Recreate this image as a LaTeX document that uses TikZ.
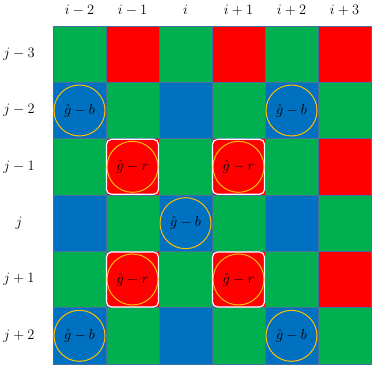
\documentclass[tikz,border=0pt]{standalone}
\usepackage{amsmath}
\usepackage{tikz}
\usetikzlibrary{positioning}

\definecolor{bayerG}{HTML}{00B050}
\definecolor{bayerR}{HTML}{FF0000}
\definecolor{bayerB}{HTML}{0070C0}
\definecolor{gridline}{HTML}{41719C}
\definecolor{ringorange}{HTML}{FFC000}

\begin{document}
\begin{tikzpicture}[
x=1pt, y=1pt,
cell/.style={
draw=gridline,
line width=0.8pt,
minimum width=53pt,
minimum height=56.33pt,
inner sep=0pt,
outer sep=0pt
},
gc/.style={cell, fill=bayerG},
rc/.style={cell, fill=bayerR},
bc/.style={cell, fill=bayerB},
redbox/.style={
draw=white,
line width=1.2pt,
fill=bayerR,
rounded corners=5pt,
minimum width=52pt,
minimum height=55pt,
inner sep=0pt
},
ring/.style={
circle,
draw=ringorange,
line width=1pt,
minimum size=51pt,
inner sep=0pt,
font=\Large
},
idx/.style={
font=\Large,
inner sep=1pt
}
]

\useasboundingbox (0,0) rectangle (374,367);

% row j-3
\node[gc] (c11) at (79.5,312.83) {};
\node[rc, right=0pt of c11] (c12) {};
\node[gc, right=0pt of c12] (c13) {};
\node[rc, right=0pt of c13] (c14) {};
\node[gc, right=0pt of c14] (c15) {};
\node[rc, right=0pt of c15] (c16) {};
% row j-2
\node[bc, below=0pt of c11] (c21) {};
\node[gc, right=0pt of c21] (c22) {};
\node[bc, right=0pt of c22] (c23) {};
\node[gc, right=0pt of c23] (c24) {};
\node[bc, right=0pt of c24] (c25) {};
\node[gc, right=0pt of c25] (c26) {};
% row j-1
\node[gc, below=0pt of c21] (c31) {};
\node[rc, right=0pt of c31] (c32) {};
\node[gc, right=0pt of c32] (c33) {};
\node[rc, right=0pt of c33] (c34) {};
\node[gc, right=0pt of c34] (c35) {};
\node[rc, right=0pt of c35] (c36) {};
% row j
\node[bc, below=0pt of c31] (c41) {};
\node[gc, right=0pt of c41] (c42) {};
\node[bc, right=0pt of c42] (c43) {};
\node[gc, right=0pt of c43] (c44) {};
\node[bc, right=0pt of c44] (c45) {};
\node[gc, right=0pt of c45] (c46) {};
% row j+1
\node[gc, below=0pt of c41] (c51) {};
\node[rc, right=0pt of c51] (c52) {};
\node[gc, right=0pt of c52] (c53) {};
\node[rc, right=0pt of c53] (c54) {};
\node[gc, right=0pt of c54] (c55) {};
\node[rc, right=0pt of c55] (c56) {};
% row j+2
\node[bc, below=0pt of c51] (c61) {};
\node[gc, right=0pt of c61] (c62) {};
\node[bc, right=0pt of c62] (c63) {};
\node[gc, right=0pt of c63] (c64) {};
\node[bc, right=0pt of c64] (c65) {};
\node[gc, right=0pt of c65] (c66) {};

% red samples
\node[redbox] (box32) at (c32) {};
\node[redbox] (box34) at (c34) {};
\node[redbox] (box52) at (c52) {};
\node[redbox] (box54) at (c54) {};

\node[ring] (ring32) at (c32) {$\hat{g}-r$};
\node[ring] (ring34) at (c34) {$\hat{g}-r$};
\node[ring] (ring52) at (c52) {$\hat{g}-r$};
\node[ring] (ring54) at (c54) {$\hat{g}-r$};

% blue samples
\node[ring] (ring21) at (c21) {$\hat{g}-b$};
\node[ring] (ring25) at (c25) {$\hat{g}-b$};
\node[ring] (ring43) at (c43) {$\hat{g}-b$};
\node[ring] (ring61) at (c61) {$\hat{g}-b$};
\node[ring] (ring65) at (c65) {$\hat{g}-b$};

% indices
\node[idx] (col1) at ([yshift=44pt]c11.center) {$i-2$};
\node[idx] (col2) at ([yshift=44pt]c12.center) {$i-1$};
\node[idx] (col3) at ([yshift=44pt]c13.center) {$i$};
\node[idx] (col4) at ([yshift=44pt]c14.center) {$i+1$};
\node[idx] (col5) at ([yshift=44pt]c15.center) {$i+2$};
\node[idx] (col6) at ([yshift=44pt]c16.center) {$i+3$};

\node[idx] (row1) at ([xshift=-60.5pt]c11.center) {$j-3$};
\node[idx] (row2) at ([xshift=-60.5pt]c21.center) {$j-2$};
\node[idx] (row3) at ([xshift=-60.5pt]c31.center) {$j-1$};
\node[idx] (row4) at ([xshift=-60.5pt]c41.center) {$j$};
\node[idx] (row5) at ([xshift=-60.5pt]c51.center) {$j+1$};
\node[idx] (row6) at ([xshift=-60.5pt]c61.center) {$j+2$};

\end{tikzpicture}
\end{document}
